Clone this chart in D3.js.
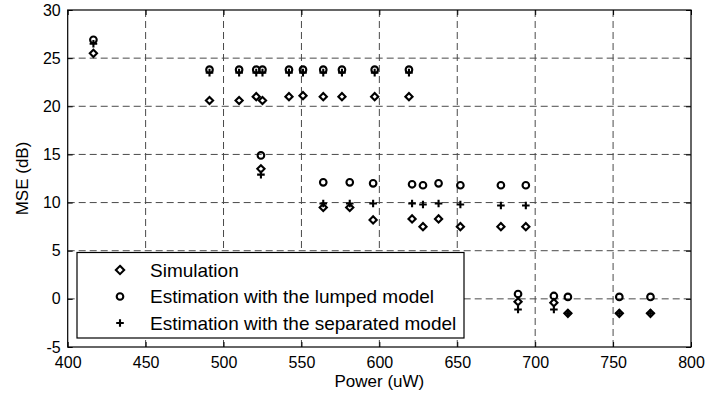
<!DOCTYPE html>
<html><head><meta charset="utf-8">
<script src="https://cdn.jsdelivr.net/npm/d3@7"></script>
<style>body{margin:0;background:#fff}svg{display:block}text{font-family:"Liberation Sans",Arial,sans-serif;fill:#000}</style>
</head><body><svg id="c" width="710" height="400"></svg>
<script>
const power = [416.5, 491, 510, 521, 525, 542, 551, 564, 576, 597, 619, 524, 564, 581, 596, 621, 628, 638, 652, 678, 694, 689, 712, 721, 754, 774];
const simulation = [25.5, 20.6, 20.6, 21.0, 20.6, 21.0, 21.1, 21.0, 21.0, 21.0, 21.0, 13.5, 9.5, 9.5, 8.2, 8.3, 7.5, 8.3, 7.5, 7.5, 7.5, -0.3, -0.4, -1.5, -1.5, -1.5];
const lumped = [26.9, 23.8, 23.8, 23.8, 23.8, 23.8, 23.8, 23.8, 23.8, 23.8, 23.8, 14.9, 12.1, 12.1, 12.0, 11.9, 11.8, 12.0, 11.8, 11.8, 11.8, 0.5, 0.3, 0.2, 0.2, 0.2];
const separated = [26.5, 23.5, 23.5, 23.5, 23.5, 23.5, 23.5, 23.5, 23.5, 23.5, 23.5, 12.9, 9.9, 9.9, 9.9, 9.9, 9.8, 9.9, 9.8, 9.7, 9.7, -1.1, -1.1, -1.5, -1.5, -1.5];
const xTicks = [400, 450, 500, 550, 600, 650, 700, 750, 800];
const yTicks = [-5, 0, 5, 10, 15, 20, 25, 30];
const seriesNames = ["Simulation", "Estimation with the lumped model", "Estimation with the separated model"];
const xLabel = "Power (uW)", yLabel = "MSE (dB)";

const L = 67.7, R = 691, T = 10, B = 347;
const svg = d3.select("#c");
const x = d3.scaleLinear().domain([400, 800]).range([L, R]);
const y = d3.scaleLinear().domain([-5, 30]).range([B, T]);

// grid
const g = svg.append("g");
g.selectAll(".gx").data(xTicks.slice(1, -1)).join("line")
  .attr("x1", d => x(d)).attr("x2", d => x(d)).attr("y1", T).attr("y2", B)
  .attr("stroke", "#4a4a4a").attr("stroke-dasharray", "7,4");
g.selectAll(".gy").data(yTicks.slice(1, -1)).join("line")
  .attr("y1", d => y(d)).attr("y2", d => y(d)).attr("x1", L).attr("x2", R)
  .attr("stroke", "#4a4a4a").attr("stroke-dasharray", "7,4");

// axes with inward ticks
const tl = 5;
const fmt = d => String(d);
const axB = svg.append("g").attr("transform", `translate(0,${B})`)
  .call(d3.axisBottom(x).tickValues(xTicks).tickSizeInner(-tl).tickSizeOuter(0).tickPadding(10).tickFormat(fmt));
const axT = svg.append("g").attr("transform", `translate(0,${T})`)
  .call(d3.axisTop(x).tickValues(xTicks).tickSizeInner(-tl).tickSizeOuter(0).tickFormat(""));
const axL = svg.append("g").attr("transform", `translate(${L},0)`)
  .call(d3.axisLeft(y).tickValues(yTicks).tickSizeInner(-tl).tickSizeOuter(0).tickPadding(7).tickFormat(fmt));
const axR = svg.append("g").attr("transform", `translate(${R},0)`)
  .call(d3.axisRight(y).tickValues(yTicks).tickSizeInner(-tl).tickSizeOuter(0).tickFormat(""));
[axB, axT, axL, axR].forEach(a => { a.select(".domain").remove(); a.selectAll("line").attr("stroke", "#000"); a.selectAll("text").attr("font-size", 16).attr("font-family", '"Liberation Sans",Arial,sans-serif').attr("fill", "#000"); });
axB.selectAll("text").attr("dy", "0.71em");
svg.append("rect").attr("x", L).attr("y", T).attr("width", R - L).attr("height", B - T)
  .attr("fill", "none").attr("stroke", "#000").attr("stroke-width", 1.2);

// markers
const mk = (k) => ({
  diamond: (s, cx, cy) => s.append("path").attr("d", `M${cx},${cy-3.6*k}L${cx+3.6*k},${cy}L${cx},${cy+3.6*k}L${cx-3.6*k},${cy}Z`).attr("fill", "none").attr("stroke", "#000").attr("stroke-width", 2.1),
  circle: (s, cx, cy) => s.append("circle").attr("cx", cx).attr("cy", cy).attr("r", 3.3).attr("fill", "none").attr("stroke", "#000").attr("stroke-width", 2.1),
  plus: (s, cx, cy) => s.append("path").attr("d", `M${cx-3.8},${cy}H${cx+3.8}M${cx},${cy-3.8}V${cy+3.8}`).attr("fill", "none").attr("stroke", "#000").attr("stroke-width", 2.1)
});
const sym = mk(1), symL = mk(1.15);
const series = [[simulation, "diamond"], [lumped, "circle"], [separated, "plus"]];
const mg = svg.append("g");
series.forEach(([vals, kind]) => {
  vals.forEach((v, i) => sym[kind](mg, x(power[i]), y(v)));
});

// legend
const lg = svg.append("g");
lg.append("rect").attr("x", 77).attr("y", 252.5).attr("width", 387).attr("height", 85.5).attr("fill", "#fff").attr("stroke", "#000").attr("stroke-width", 1.2);
const rowY = [270, 296.5, 323];
series.forEach(([vals, kind], i) => {
  symL[kind](lg, 120, rowY[i]);
  lg.append("text").attr("x", 150).attr("y", rowY[i]).attr("dy", "0.35em").attr("font-size", 19).text(seriesNames[i]);
});

svg.append("text").attr("x", (L + R) / 2).attr("y", 381).attr("dy", "0.35em").attr("text-anchor", "middle").attr("font-size", 17).text(xLabel);
svg.append("text").attr("transform", `translate(22,${(T + B) / 2}) rotate(-90)`).attr("dy", "0.35em").attr("text-anchor", "middle").attr("font-size", 17).text(yLabel);
</script></body></html>
